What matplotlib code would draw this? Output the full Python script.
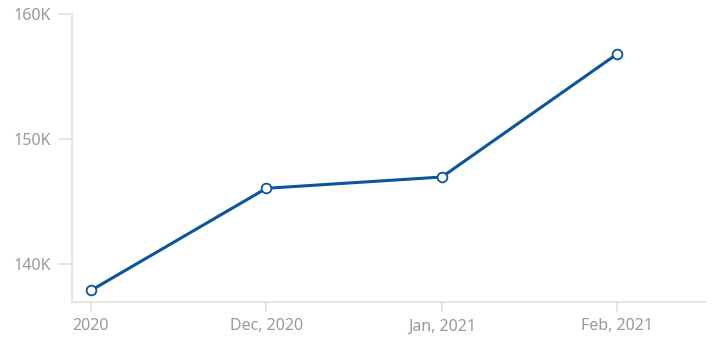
import matplotlib.pyplot as plt
from matplotlib.ticker import FuncFormatter

# data
labels = ['2020', 'Dec, 2020', 'Jan, 2021', 'Feb, 2021']
values = [137900, 146050, 146950, 156780]

line_color = '#0b559c'
text_color = '#999999'
axis_color = '#e3e3e3'

plt.rcParams['font.family'] = ['Noto Sans', 'DejaVu Sans']

fig = plt.figure(figsize=(7.21, 3.46), dpi=100)
ax = fig.add_axes([72 / 721, (346 - 301.7) / 346, (705 - 72) / 721, (301.7 - 13.5) / 346])

x = list(range(len(labels)))
ax.plot(x, values, color=line_color, linewidth=2.2, marker='o', markersize=7,
        markerfacecolor='white', markeredgecolor=line_color, markeredgewidth=1.3,
        clip_on=False, zorder=3)

ax.set_xlim(-0.108, 3.5)
ax.set_ylim(137000, 160000)
ax.set_xticks(x)
ax.set_xticklabels(labels)
ax.set_yticks([140000, 150000, 160000])
ax.yaxis.set_major_formatter(FuncFormatter(lambda v, p: f'{int(v / 1000)}K'))

for s in ['top', 'right']:
    ax.spines[s].set_visible(False)
for s in ['left', 'bottom']:
    ax.spines[s].set_color(axis_color)
    ax.spines[s].set_linewidth(1.3)

ax.tick_params(axis='x', colors=axis_color, length=7, width=1.3, pad=5,
               labelcolor=text_color, labelsize=11.5)
ax.tick_params(axis='y', colors=axis_color, length=10, width=1.3, pad=5,
               labelcolor=text_color, labelsize=11.5)

fig.savefig('out.png', dpi=100)
